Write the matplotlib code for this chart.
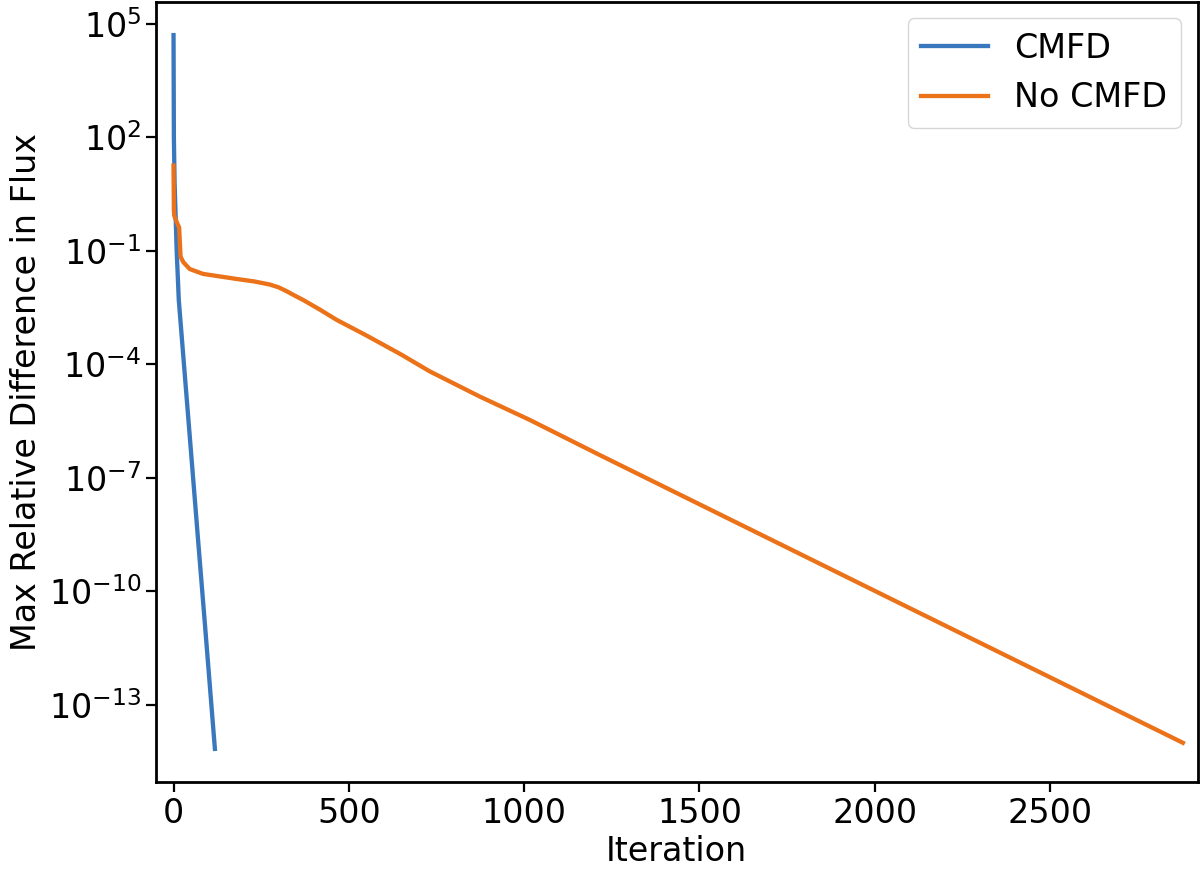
# CMFD vs no CMFD convergence

# Import
import numpy as np
import matplotlib.pyplot as plt
from matplotlib.ticker import NullLocator

# Data
cmfd_iter = [0, 1, 3, 6, 9, 15, 30, 50, 70, 90, 118]
cmfd_diff = [5e4, 1e2, 6.3, 0.8, 0.1, 5e-3, 9.3e-5, 4.7e-7, 2.3e-9, 1.2e-11, 6.9e-15]

nocmfd_iter = [0, 1, 2, 10, 16, 20, 28, 46, 84, 180, 230, 275, 300, 322, 345, 370, 420,
               465, 550, 650, 731, 874, 1016, 1111, 1216, 2071, 2879]
nocmfd_diff = [17.8, 1.2, 0.85, 0.55, 0.41, 0.07, 0.05, 0.033, 0.0245, 0.018, 0.0155,
               0.0128, 0.0108, 8.6e-3, 6.6e-3, 5.0e-3, 2.7e-3, 1.5e-3, 5.8e-4, 1.8e-4,
               6.5e-5, 1.4e-5, 3.4e-6, 1.23e-6, 4.0e-7, 4.9e-11, 1.0e-14]

# Plotting
plt.rcParams['font.size'] = 24
fig = plt.figure(figsize=(12, 8.71), dpi=100)
ax = fig.add_axes([0.13, 0.102, 0.868, 0.896])

ax.plot(cmfd_iter, cmfd_diff, color="#3a78bd", linewidth=3.1, label="CMFD")
ax.plot(nocmfd_iter, nocmfd_diff, color="#eb7219", linewidth=3.1, label="No CMFD")

ax.set_yscale("log")
ax.set_xlim(-50, 2921)
ax.set_ylim(10**-15.04, 10**5.58)
ax.set_yticks([1e5, 1e2, 1e-1, 1e-4, 1e-7, 1e-10, 1e-13])
ax.yaxis.set_minor_locator(NullLocator())
ax.set_xticks([0, 500, 1000, 1500, 2000, 2500])

ax.tick_params(length=7, width=1.6)
for s in ax.spines.values():
    s.set_linewidth(2)

ax.set_xlabel("Iteration")
ax.set_ylabel("Max Relative Difference in Flux")
ax.legend(loc="upper right")

fig.savefig("out.png", dpi=100)
